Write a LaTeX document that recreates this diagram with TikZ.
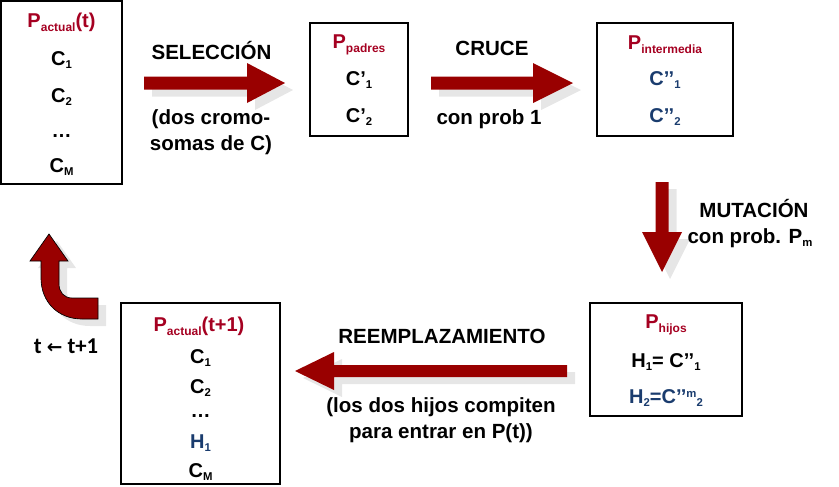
\documentclass[tikz,border=0pt]{standalone}
\usepackage{fontspec}
\setmainfont{Liberation Sans}
\newfontfamily\calfont{Carlito}
\newfontfamily\dvfont{DejaVu Sans}
\usetikzlibrary{fit}
\definecolor{arrred}{RGB}{153,0,0}
\definecolor{txtred}{RGB}{165,0,33}
\definecolor{txtblue}{RGB}{26,60,110}
\definecolor{shadowgray}{RGB}{230,230,230}
\newcommand\Psub[1]{\raisebox{-3.5pt}{\fontsize{9}{9}\selectfont #1}}
\newcommand\csub[1]{\raisebox{-2.5pt}{\fontsize{8.5}{8.5}\selectfont #1}}
\newcommand\csup[1]{\raisebox{4.5pt}{\fontsize{8.5}{8.5}\selectfont #1}}
\begin{document}
\begin{tikzpicture}[x=0.75pt,y=-0.75pt,
  boxst/.style={draw=black,line width=1pt,inner sep=0pt},
  bt/.style={anchor=base,font=\fontsize{15}{15}\selectfont\bfseries,inner sep=0pt},
  lt/.style={anchor=base,font=\fontsize{15.4}{15.4}\selectfont\bfseries,inner sep=0pt},
  blockarrow/.style={fill=arrred},
  arrshadow/.style={fill=shadowgray,shift={(8,7)}}]
\useasboundingbox (0,0) rectangle (839,486);

% boxes
\node[boxst,fit={(1,1)(122,184)}] (b1) {};
\node[boxst,fit={(310,23)(408,136)}] (b2) {};
\node[boxst,fit={(597,23)(733,136)}] (b3) {};
\node[boxst,fit={(590,303)(742,416)}] (b4) {};
\node[boxst,fit={(121,303)(280,484)}] (b5) {};

% arrow shadows
\path[arrshadow] (144,76.5) -- (247,76.5) -- (247,63) -- (285,83) -- (247,103) -- (247,89.5) -- (144,89.5) -- cycle;
\path[arrshadow] (431,76.5) -- (533,76.5) -- (533,63) -- (573,83) -- (533,103) -- (533,89.5) -- (431,89.5) -- cycle;
\path[arrshadow] (655.5,182) -- (668.5,182) -- (668.5,232) -- (682,232) -- (662,272) -- (642,232) -- (655.5,232) -- cycle;
\path[arrshadow] (567,365) -- (334,365) -- (334,352) -- (295,371) -- (334,390) -- (334,377) -- (567,377) -- cycle;
\path[arrshadow] (98,298) -- (72,298) .. controls (64,298) and (59,292) .. (59,284) -- (59,261) -- (68,261) -- (49,234) -- (30,261) -- (41,261) -- (41,278) .. controls (41,302) and (58,319) .. (82,319) -- (98,319) -- cycle;

% arrows
\path[blockarrow] (144,76.5) -- (247,76.5) -- (247,63) -- (285,83) -- (247,103) -- (247,89.5) -- (144,89.5) -- cycle;
\path[blockarrow] (431,76.5) -- (533,76.5) -- (533,63) -- (573,83) -- (533,103) -- (533,89.5) -- (431,89.5) -- cycle;
\path[blockarrow] (655.5,182) -- (668.5,182) -- (668.5,232) -- (682,232) -- (662,272) -- (642,232) -- (655.5,232) -- cycle;
\path[blockarrow] (567,365) -- (334,365) -- (334,352) -- (295,371) -- (334,390) -- (334,377) -- (567,377) -- cycle;
\path[blockarrow,draw=black,line width=0.5pt] (98,298) -- (72,298) .. controls (64,298) and (59,292) .. (59,284) -- (59,261) -- (68,261) -- (49,234) -- (30,261) -- (41,261) -- (41,278) .. controls (41,302) and (58,319) .. (82,319) -- (98,319) -- cycle;

% box 1
\node[bt,text=txtred] (p1) at (61.5,27) {P\Psub{actual}(t)};
\node[bt] (c11) at (61.5,65) {C\csub{1}};
\node[bt] (c12) at (61.5,102) {C\csub{2}};
\node[bt] (d1) at (61.5,137) {…};
\node[bt] (c1m) at (61.5,172) {C\csub{M}};

% selection
\node[lt] (sel) at (211.5,59) {SELECCIÓN};
\node[lt] (sel2) at (211,124) {(dos cromo-};
\node[lt] (sel3) at (211,150) {somas de C)};

% box 2
\node[bt,text=txtred] (p2) at (359,48) {P\Psub{padres}};
\node[bt] (c21) at (359,85) {C’\csub{1}};
\node[bt] (c22) at (359,122) {C’\csub{2}};

% cruce
\node[lt] (cru) at (492,55) {CRUCE};
\node[lt] (cru2) at (489,124) {con prob 1};

% box 3
\node[bt,text=txtred] (p3) at (665,49) {P\Psub{intermedia}};
\node[bt,text=txtblue] (c31) at (665,85) {C’’\csub{1}};
\node[bt,text=txtblue] (c32) at (665,122) {C’’\csub{2}};

% mutacion
\node[lt] (mut) at (754,217) {MUTACIÓN};
\node[lt] (mut2) at (750,243) {con prob. P\csub{m}};

% box 4
\node[bt,text=txtred] (p4) at (666,328) {P\Psub{hijos}};
\node[bt] (h41) at (666,367) {H\csub{1}= C’’\csub{1}};
\node[bt,text=txtblue] (h42) at (666,403) {H\csub{2}=C’’\csup{m}\csub{2}};

% reemplazamiento
\node[lt] (ree) at (442,343) {REEMPLAZAMIENTO};
\node[lt] (ree2) at (441,412) {(los dos hijos compiten};
\node[lt] (ree3) at (441,438) {para entrar en P(t))};

% box 5
\node[bt,text=txtred] (p5) at (199,331) {P\Psub{actual}(t+1)};
\node[bt] (c51) at (200.5,363) {C\csub{1}};
\node[bt] (c52) at (200.5,393) {C\csub{2}};
\node[bt] (d5) at (200.5,417) {…};
\node[bt,text=txtblue] (h5) at (200.5,448) {H\csub{1}};
\node[bt] (c5m) at (200.5,477) {C\csub{M}};

% t <- t+1
\node[anchor=base,inner sep=0pt,font=\calfont\fontsize{17}{17}\selectfont\bfseries] (tt) at (66,353) {t {\dvfont\fontsize{14}{14}\selectfont ←} t+1};
\end{tikzpicture}
\end{document}
